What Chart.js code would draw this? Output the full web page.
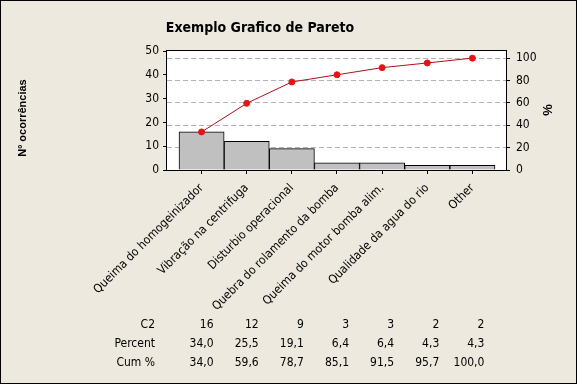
<!DOCTYPE html>
<html>
<head>
<meta charset="utf-8">
<script src="https://cdn.jsdelivr.net/npm/chart.js@4.4.1/dist/chart.umd.min.js"></script>
<style>
  html, body { margin: 0; padding: 0; background: #ede9df; }
</style>
</head>
<body>
<canvas id="pareto" width="577" height="384"></canvas>
<script>
const categorias = ['Queima do homogeinizador', 'Vibração na centrifuga', 'Disturbio operacional',
  'Quebra do rolamento da bomba', 'Queima do motor bomba alim.', 'Qualidade da agua do rio', 'Other']
const ocorrencias = [16, 12, 9, 3, 3, 2, 2]
const percentual = [34.0, 25.5, 19.1, 6.4, 6.4, 4.3, 4.3]
const acumulado = [34.0, 59.6, 78.7, 85.1, 91.5, 95.7, 100.0]
const ticksEsq = [0, 10, 20, 30, 40, 50]
const ticksDir = [0, 20, 40, 60, 80, 100]
const filasTabla = ['C2', 'Percent', 'Cum %']

const fonte = "'DejaVu Sans Condensed', 'DejaVu Sans', sans-serif"
const total = ocorrencias.reduce((a, b) => a + b, 0)
const maxEsq = 50
const maxDir = maxEsq / total * 100

const fmt = v => v.toFixed(1).replace('.', ',')

const desenho = {
  id: 'desenho',
  beforeDraw(chart) {
    const { ctx, chartArea: a } = chart
    ctx.save()
    ctx.fillStyle = '#ede9df'
    ctx.fillRect(0, 0, chart.width, chart.height)
    ctx.fillStyle = '#ffffff'
    ctx.fillRect(a.left, a.top, a.right - a.left, a.bottom - a.top)
    ctx.restore()
  },
  afterDraw(chart) {
    const { ctx, chartArea: a } = chart
    const x = chart.scales.x
    ctx.save()
    // caixa do grafico
    ctx.strokeStyle = '#000'
    ctx.lineWidth = 1
    ctx.strokeRect(Math.round(a.left) - 0.5, Math.round(a.top) - 0.5,
      Math.round(a.right - a.left) + 1, Math.round(a.bottom - a.top) + 1)
    // moldura
    ctx.strokeRect(0.5, 0.5, chart.width - 1, chart.height - 1)

    ctx.fillStyle = '#000'
    ctx.textBaseline = 'middle'
    ctx.textAlign = 'center'
    ctx.font = 'bold 14px ' + fonte
    ctx.fillText('Exemplo Grafico de Pareto', 260, 28)

    // titulos dos eixos
    ctx.font = "bold 11px 'Liberation Sans', Arial, sans-serif"
    ctx.save()
    ctx.translate(23, 118)
    ctx.rotate(-Math.PI / 2)
    ctx.fillText('Nº ocorrências', 0, 0)
    ctx.restore()
    ctx.save()
    ctx.translate(548, 110)
    ctx.rotate(-Math.PI / 2)
    ctx.font = "bold 13px 'Liberation Sans', Arial, sans-serif"
    ctx.fillText('%', 0, 0)
    ctx.restore()

    // tabela
    ctx.font = '12px ' + fonte
    ctx.textAlign = 'right'
    const linhas = [ocorrencias.map(String), percentual.map(fmt), acumulado.map(fmt)]
    const ys = [325, 344, 363]
    filasTabla.forEach((nome, r) => {
      ctx.fillText(nome, 155, ys[r])
      linhas[r].forEach((txt, i) => {
        ctx.fillText(txt, x.getPixelForValue(i) + 12, ys[r])
      })
    })
    ctx.restore()
  }
}

const ctx = document.getElementById('pareto').getContext('2d')
new Chart(ctx, {
  data: {
    datasets: [{
      type: 'line',
      label: 'Cum %',
      data: acumulado.map((v, i) => ({ x: i, y: v })),
      yAxisID: 'y2',
      borderColor: '#b0101c',
      borderWidth: 1,
      pointRadius: 3,
      pointBackgroundColor: '#e51414',
      pointBorderColor: '#e51414',
      tension: 0,
      order: 1
    }, {
      type: 'bar',
      label: 'C2',
      data: ocorrencias.map((v, i) => ({ x: i, y: v })),
      yAxisID: 'y',
      backgroundColor: '#c0c0c0',
      borderColor: '#000',
      borderWidth: 1,
      barPercentage: 1,
      categoryPercentage: 1,
      order: 2
    }]
  },
  options: {
    responsive: false,
    animation: false,
    layout: { padding: { top: 51, left: 0, right: 0, bottom: 0 } },
    plugins: {
      legend: { display: false },
      tooltip: { enabled: false }
    },
    scales: {
      x: {
        type: 'linear',
        min: -0.766,
        max: 6.744,
        offset: false,
        border: { display: false },
        grid: { offset: false, drawOnChartArea: false, tickLength: 4, tickColor: '#000' },
        afterBuildTicks: s => { s.ticks = categorias.map((c, i) => ({ value: i })) },
        afterFit: s => { s.height = 214 },
        ticks: {
          autoSkip: false,
          minRotation: 45,
          maxRotation: 45,
          padding: 7,
          color: '#000',
          font: { family: fonte, size: 12 },
          callback: v => categorias[v]
        }
      },
      y: {
        position: 'left',
        min: 0,
        max: maxEsq,
        border: { display: false },
        grid: { drawOnChartArea: false, tickLength: 4, tickColor: '#000' },
        afterBuildTicks: s => { s.ticks = ticksEsq.map(v => ({ value: v })) },
        afterFit: s => { s.width = 167 },
        ticks: { color: '#000', padding: 4, font: { family: fonte, size: 12 } }
      },
      y2: {
        position: 'right',
        min: 0,
        max: maxDir,
        border: { display: false, dash: [5, 3] },
        grid: {
          color: c => c.tick && c.tick.value === 0 ? 'rgba(0,0,0,0)' : '#b4b4b4',
          borderDash: [5, 3],
          tickLength: 4,
          tickColor: '#000',
          tickBorderDash: []
        },
        afterBuildTicks: s => { s.ticks = ticksDir.map(v => ({ value: v })) },
        afterFit: s => { s.width = 71 },
        ticks: { color: '#000', padding: 6, font: { family: fonte, size: 12 } }
      }
    }
  },
  plugins: [desenho]
})
</script>
</body>
</html>
